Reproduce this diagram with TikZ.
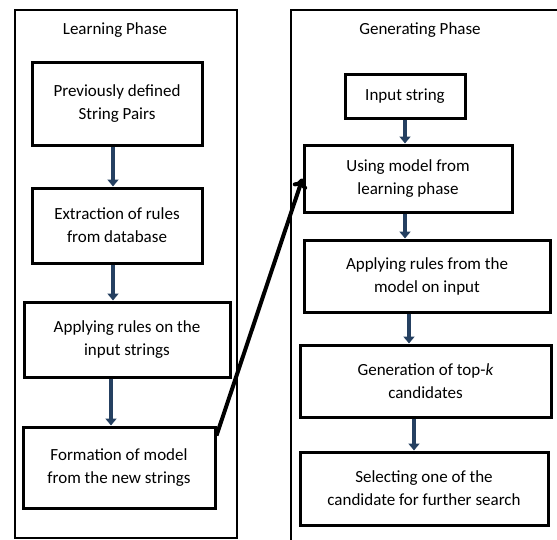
\documentclass[tikz,border=0pt]{standalone}
\usepackage{fontspec}
\setmainfont{Carlito}
\definecolor{FlowBlue}{RGB}{37,64,97}
\usetikzlibrary{arrows.meta, positioning}

\begin{document}
\begin{tikzpicture}[x=1pt, y=-1pt,
    phase/.style={draw=black, line width=2.3pt},
    title/.style={font=\fontsize{17}{23}\selectfont},
    stepbox/.style={draw=black, line width=3pt, align=center, inner sep=0pt,
                    font=\fontsize{17}{23}\selectfont},
    flow/.style={-{Triangle[length=7pt,width=11pt]}, FlowBlue, line width=4.2pt},
    link/.style={-{To[length=10pt,width=15pt]}, black, line width=4pt}]
      \clip (0,0) rectangle (557,539);

      % the two phases
      \draw[phase] (15,10) rectangle (237,538);
      \draw[phase] (291,10) rectangle (620,620);
      \node[title] (learn) at (115,30) {Learning Phase};
      \node[title] (gen) at (420,30) {Generating Phase};

      % learning phase
      \node[stepbox, minimum width=170pt, minimum height=83pt] (b1) at (117,103.5)
            {Previously defined\\String Pairs};
      \node[stepbox, minimum width=170pt, minimum height=75pt] (b2) at (117,225.5)
            {Extraction of rules\\from database};
      \node[stepbox, minimum width=206pt, minimum height=75pt] (b3) at (127,339.5)
            {Applying rules on the\\input strings};
      \node[stepbox, minimum width=192pt, minimum height=81pt] (b4) at (119,467.5)
            {Formation of model\\from the new strings};

      % generating phase
      \node[stepbox, minimum width=120pt, minimum height=44pt] (r1) at (405,96)
            {Input string};
      \node[stepbox, minimum width=208pt, minimum height=67pt] (r2) at (408,178.5)
            {Using model from\\learning phase};
      \node[stepbox, minimum width=246pt, minimum height=72pt] (r3) at (427,276)
            {Applying rules from the\\model on input};
      \node[stepbox, minimum width=251pt, minimum height=72pt] (r4) at (425.5,381)
            {Generation of top-\textit{k}\\candidates};
      \node[stepbox, minimum width=248pt, minimum height=73pt] (r5) at (424,488.5)
            {Selecting one of the\\candidate for further search};

      \draw[flow] ([xshift=-4pt]b1.south) -- ([xshift=-4pt]b1.south |- b2.north);
      \draw[flow] ([xshift=-4pt]b2.south) -- ([xshift=-4pt]b2.south |- b3.north);
      \draw[flow] ([xshift=-16pt]b3.south) -- ([xshift=-16pt]b3.south |- b4.north);

      \draw[flow] (r1.south) -- (r1.south |- r2.north);
      \draw[flow] ([xshift=-3pt]r2.south) -- ([xshift=-3pt]r2.south |- r3.north);
      \draw[flow] ([xshift=-18pt]r3.south) -- ([xshift=-18pt]r3.south |- r4.north);
      \draw[flow] ([xshift=-11.5pt]r4.south) -- ([xshift=-11.5pt]r4.south |- r5.north);

      % model goes over to the generating phase
      \draw[link] ([yshift=-10pt]b4.north east) -- (r2.west);
\end{tikzpicture}
\end{document}
